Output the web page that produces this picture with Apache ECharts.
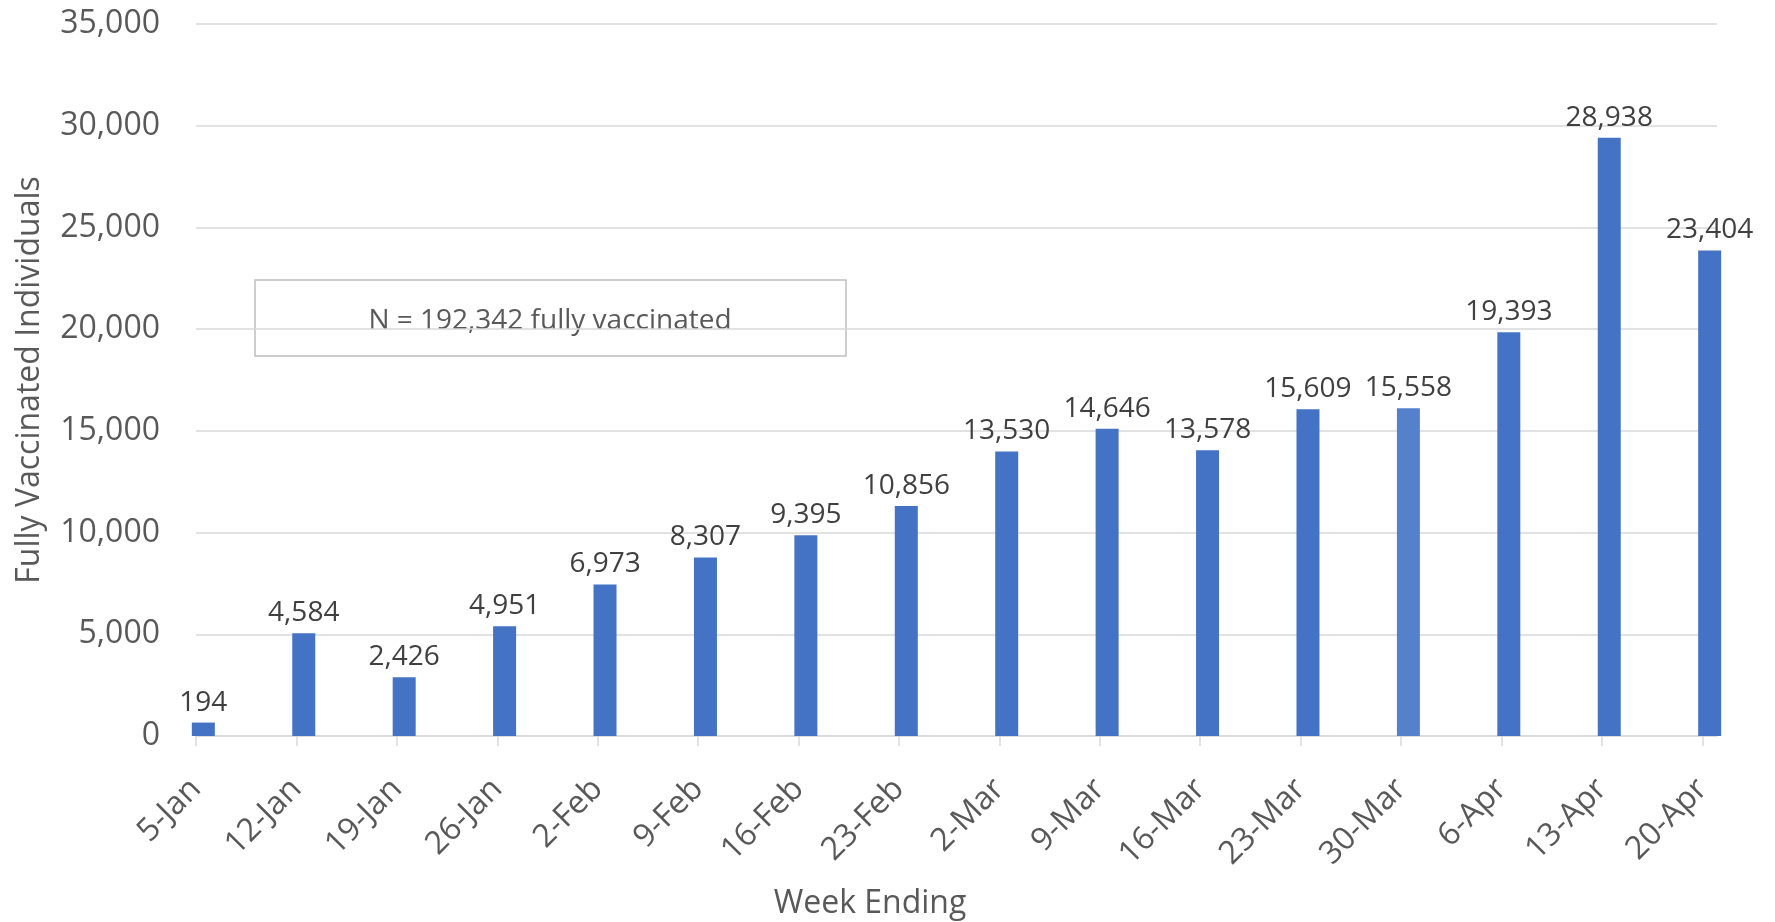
<!DOCTYPE html>
<html>
<head>
<meta charset="utf-8">
<script src="https://cdn.jsdelivr.net/npm/echarts@6/dist/echarts.min.js"></script>
<style>
  html, body { margin: 0; padding: 0; background: #fff; }
  #chart { width: 1775px; height: 922px; }
</style>
</head>
<body>
<div id="chart"></div>
<script>
// week ending dates (x tick labels)
const weekEnding = ['5-Jan', '12-Jan', '19-Jan', '26-Jan', '2-Feb', '9-Feb', '16-Feb', '23-Feb',
  '2-Mar', '9-Mar', '16-Mar', '23-Mar', '30-Mar', '6-Apr', '13-Apr', '20-Apr'];
// numbers printed above the bars
const labelValues = [194, 4584, 2426, 4951, 6973, 8307, 9395, 10856,
  13530, 14646, 13578, 15609, 15558, 19393, 28938, 23404];
// bar heights as drawn in the picture (they sit a bit above the printed numbers)
const barHeights = [660, 5050, 2890, 5395, 7450, 8780, 9870, 11310,
  13985, 15100, 14050, 16065, 16110, 19850, 29405, 23865];
const totalNote = 'N = 192,342 fully vaccinated';

const font = 'Open Sans';
const barShift = 0.073; // bars sit slightly right of their tick

const chart = echarts.init(document.getElementById('chart'));

let option = {
  animation: false,
  grid: { left: 196, right: 58, top: 24, bottom: 186 },
  xAxis: {
    type: 'value',
    min: 0,
    max: 15.146,
    interval: 1,
    splitLine: { show: false },
    axisLine: { show: true, lineStyle: { color: '#d9d9d9', width: 1.5 } },
    axisTick: { show: true, length: 10, lineStyle: { color: '#d9d9d9', width: 1.5 } },
    axisLabel: {
      rotate: 45,
      margin: 48,
      padding: [0, 0, 0, 0],
      fontFamily: font,
      fontSize: 32,
      color: '#595959',
      showMaxLabel: false,
      formatter: function (v) {
        return Number.isInteger(v) && weekEnding[v] ? weekEnding[v] : '';
      }
    }
  },
  yAxis: {
    type: 'value',
    min: 0,
    max: 35000,
    interval: 5000,
    name: 'Fully Vaccinated Individuals',
    nameLocation: 'middle',
    nameGap: 150,
    nameTextStyle: { fontFamily: font, fontSize: 32, color: '#595959' },
    axisLine: { show: false },
    axisTick: { show: false },
    splitLine: { lineStyle: { color: '#d9d9d9', width: 1.5 } },
    axisLabel: {
      margin: 36,
      fontFamily: font,
      fontSize: 32,
      color: '#595959',
      formatter: function (v) { return v.toLocaleString('en-US'); }
    }
  },
  series: [
    {
      type: 'bar',
      barWidth: 23,
      clip: true,
      itemStyle: { color: '#4472c4' },
      label: {
        show: true,
        position: 'top',
        distance: 6,
        fontFamily: font,
        fontSize: 28,
        color: '#404040',
        formatter: function (p) { return labelValues[p.dataIndex].toLocaleString('en-US'); }
      },
      data: barHeights.map(function (h, i) {
        const item = { value: [i + barShift, h] };
        if (weekEnding[i] === '30-Mar') item.itemStyle = { color: '#5581cc' };
        return item;
      })
    }
  ],
  graphic: [
    {
      type: 'group',
      z: 100,
      children: [
        {
          type: 'rect',
          shape: { x: 255, y: 280, width: 591, height: 76 },
          style: { fill: '#fff', stroke: '#bfbfbf', lineWidth: 1.5 }
        },
        {
          type: 'text',
          x: 550, y: 321,
          style: {
            text: totalNote, fontFamily: font, fontSize: 28, fill: '#595959',
            align: 'center', verticalAlign: 'middle'
          }
        }
      ]
    },
    {
      type: 'text',
      x: 870, y: 904,
      style: {
        text: 'Week Ending', fontFamily: font, fontSize: 32, fill: '#595959',
        align: 'center', verticalAlign: 'middle'
      }
    }
  ]
};

chart.setOption(option);
</script>
</body>
</html>
